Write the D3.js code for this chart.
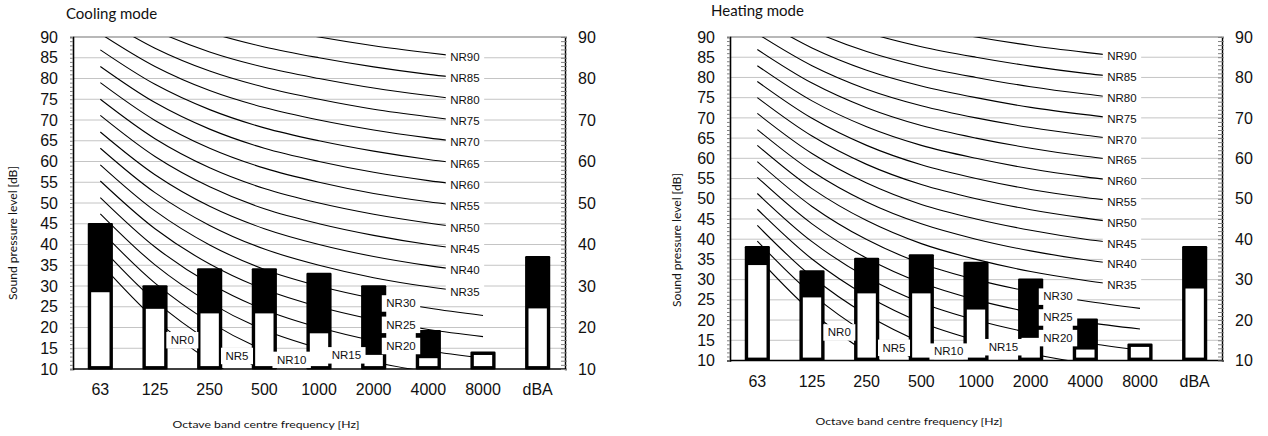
<!DOCTYPE html>
<html>
<head>
<meta charset="utf-8">
<script src="https://cdn.jsdelivr.net/npm/d3@7"></script>
<style>
  html, body { margin: 0; padding: 0; background: #fff; }
  svg { display: block; }
</style>
</head>
<body>
<svg id="chart" width="1268" height="436"></svg>
<script>
// ---------------- DATA ----------------
const categories = ["63", "125", "250", "500", "1000", "2000", "4000", "8000", "dBA"];
const nrFreqs = ["63", "125", "250", "500", "1000", "2000", "4000", "8000"];
const nrLevels = [0, 5, 10, 15, 20, 25, 30, 35, 40, 45, 50, 55, 60, 65, 70, 75, 80, 85, 90];
const nrCurves = [
  [35.5, 22.0, 12.0, 4.8, 0, -3.5, -6.1, -8.0],
  [39.5, 26.4, 16.7, 9.7, 5, 1.6, -1.0, -2.9],
  [43.4, 30.7, 21.3, 14.5, 10, 6.7, 4.2, 2.3],
  [47.4, 35.1, 26.0, 19.4, 15, 11.7, 9.3, 7.5],
  [51.3, 39.4, 30.6, 24.3, 20, 16.8, 14.4, 12.6],
  [55.3, 43.8, 35.3, 29.2, 25, 21.9, 19.5, 17.8],
  [59.2, 48.1, 39.9, 34.0, 30, 27.0, 24.7, 22.9],
  [63.2, 52.5, 44.6, 38.9, 35, 32.0, 29.8, 28.1],
  [67.1, 56.8, 49.2, 43.8, 40, 37.1, 34.9, 33.2],
  [71.1, 61.2, 53.9, 48.6, 45, 42.2, 40.0, 38.4],
  [75.0, 65.5, 58.5, 53.5, 50, 47.3, 45.2, 43.5],
  [79.0, 69.9, 63.2, 58.4, 55, 52.3, 50.3, 48.7],
  [82.9, 74.2, 67.8, 63.2, 60, 57.4, 55.4, 53.8],
  [86.9, 78.6, 72.5, 68.1, 65, 62.5, 60.5, 59.0],
  [90.8, 82.9, 77.1, 73.0, 70, 67.6, 65.7, 64.1],
  [94.8, 87.3, 81.8, 77.9, 75, 72.6, 70.8, 69.3],
  [98.7, 91.6, 86.4, 82.7, 80, 77.7, 75.9, 74.4],
  [102.7, 96.0, 91.1, 87.6, 85, 82.8, 81.0, 79.6],
  [106.6, 100.3, 95.7, 92.5, 90, 87.9, 86.2, 84.7]
];
// where along the frequency axis (in category steps) each NR label sits
const nrLabelAt = [1.5, 2.5, 3.5, 4.5, 5.5, 5.5, 5.5, 6.67, 6.67, 6.67, 6.67, 6.67, 6.67, 6.67, 6.67, 6.67, 6.67, 6.67, 6.67];

const coolingTotal = [45.2, 30.2, 34.3, 34.3, 33.2, 30.2, 19.4, 14.2, 37.2];
const coolingInner = [28.5, 24.5, 23.4, 23.4, 18.6, 13.4, 12.6, 13.4, 24.6];
const heatingTotal = [38.3, 32.3, 35.4, 36.3, 34.4, 30.3, 20.4, 14.2, 38.3];
const heatingInner = [33.6, 25.6, 26.6, 26.6, 22.6, 15.6, 12.7, 13.4, 27.8];

const yTicksLeft = [10, 15, 20, 25, 30, 35, 40, 45, 50, 55, 60, 65, 70, 75, 80, 85, 90];
const yTicksRight = [10, 20, 30, 40, 50, 60, 70, 80, 90];
const yDomain = [10, 90];

// ---------------- DRAW ----------------
const svg = d3.select("#chart");
const numFont = "'Liberation Sans', Arial, sans-serif";
const textFont = "Lato, 'Open Sans', sans-serif";

function drawPanel(p) {
  const g = svg.append("g");
  const x = d3.scaleBand().domain(categories).range([p.x0, p.x1]);
  const y = d3.scaleLinear().domain(yDomain).range([p.yBot, p.yTop]);
  const cx = c => x(c) + x.bandwidth() / 2;
  const barW = x.step() * 0.46;
  const border = 3.4;

  // grid lines
  g.append("g").selectAll("line").data(yTicksLeft.filter(v => v > 10)).join("line")
    .attr("x1", p.x0).attr("x2", p.x1)
    .attr("y1", d => y(d)).attr("y2", d => y(d))
    .attr("stroke", d => d === 90 ? "#a0a0a0" : "#c4c4c4")
    .attr("stroke-width", d => d === 90 ? 1.6 : 1);

  // NR curves
  const clipId = "clip-" + p.id;
  svg.append("defs").append("clipPath").attr("id", clipId).append("rect")
    .attr("x", p.x0).attr("y", p.yTop).attr("width", p.x1 - p.x0).attr("height", p.yBot - p.yTop);
  const line = d3.line()
    .x((d, i) => cx(nrFreqs[i]))
    .y(d => y(d))
    .curve(d3.curveCatmullRom.alpha(0.5));
  g.append("g").attr("clip-path", `url(#${clipId})`)
    .selectAll("path").data(nrCurves).join("path")
    .attr("d", line)
    .attr("fill", "none").attr("stroke", "#000").attr("stroke-width", 1.1);

  // bars
  const bars = g.append("g");
  bars.selectAll("rect.outer").data(p.total).join("rect")
    .attr("class", "outer")
    .attr("x", (d, i) => cx(categories[i]) - barW / 2)
    .attr("y", d => y(d))
    .attr("width", barW)
    .attr("height", d => y(yDomain[0]) - y(d) + 0.5)
    .attr("rx", 1.2)
    .attr("fill", "#000");
  bars.selectAll("rect.inner").data(p.inner).join("rect")
    .attr("class", "inner")
    .attr("x", (d, i) => cx(categories[i]) - barW / 2 + border)
    .attr("y", (d, i) => Math.max(y(d), y(p.total[i]) + border))
    .attr("width", barW - 2 * border)
    .attr("height", (d, i) => y(yDomain[0]) - border + 0.5 - Math.max(y(d), y(p.total[i]) + border))
    .attr("fill", "#fff");

  // NR labels
  const labels = g.append("g");
  nrLevels.forEach((lv, i) => {
    const t = nrLabelAt[i];
    const k = Math.floor(t), f = t - k;
    const v = nrCurves[i][k] * (1 - f) + nrCurves[i][k + 1] * f;
    const lx = cx(nrFreqs[k]) + f * x.step();
    const ly = y(v);
    const lg = labels.append("g");
    const rect = lg.append("rect").attr("fill", "#fff");
    const txt = lg.append("text")
      .attr("x", lx).attr("y", ly)
      .attr("text-anchor", "middle").attr("dominant-baseline", "central")
      .attr("font-family", numFont).attr("font-size", 11.5).attr("fill", "#111")
      .text("NR" + lv);
    const bb = txt.node().getBBox();
    rect.attr("x", bb.x - 4.5).attr("y", ly - 8).attr("width", bb.width + 9).attr("height", 16.5);
  });

  // bottom axis line
  g.append("line").attr("x1", p.x0).attr("x2", p.x1)
    .attr("y1", y(10)).attr("y2", y(10)).attr("stroke", "#000").attr("stroke-width", 1.6);

  // left axis: minor ticks + labels
  const leftMinor = d3.axisLeft(y).tickValues(d3.range(10, 91, 1)).tickSize(3).tickFormat("");
  const la = g.append("g").attr("transform", `translate(${p.x0},0)`).call(leftMinor);
  la.select(".domain").attr("stroke", "#000").attr("stroke-width", 1.6);
  la.selectAll(".tick line").attr("stroke", "#808080");
  const leftMajor = d3.axisLeft(y).tickValues(yTicksLeft).tickSize(0).tickPadding(15);
  const lm = g.append("g").attr("transform", `translate(${p.x0},0)`).call(leftMajor);
  lm.select(".domain").remove();
  lm.selectAll("text").attr("font-family", numFont).attr("font-size", 16).attr("fill", "#111");

  // right axis
  const rightMinor = d3.axisRight(y).tickValues(d3.range(10, 91, 1)).tickSize(2).tickFormat("");
  const ra = g.append("g").attr("transform", `translate(${p.x1},0)`).call(rightMinor);
  ra.select(".domain").attr("stroke", "#000").attr("stroke-width", 1.4);
  ra.selectAll(".tick line").attr("stroke", "#808080").attr("x1", -4);
  const rightMajor = d3.axisRight(y).tickValues(yTicksRight).tickSize(0).tickPadding(13);
  const rm = g.append("g").attr("transform", `translate(${p.x1},0)`).call(rightMajor);
  rm.select(".domain").remove();
  rm.selectAll("text").attr("font-family", numFont).attr("font-size", 16).attr("fill", "#111");

  // x axis labels
  const xa = d3.axisBottom(x).tickSize(0).tickPadding(15);
  const xg = g.append("g").attr("transform", `translate(0,${p.yBot})`).call(xa);
  xg.select(".domain").remove();
  xg.selectAll("text").attr("font-family", numFont).attr("font-size", 16).attr("fill", "#111");

  // titles
  g.append("text").attr("x", p.titleX).attr("y", p.titleY)
    .attr("font-family", textFont).attr("font-size", 15).attr("fill", "#111").text(p.title);
  g.append("text")
    .attr("transform", `translate(${p.yTitleX},${p.yTitleY}) rotate(-90)`)
    .attr("text-anchor", "middle")
    .attr("font-family", textFont).attr("font-size", 10.5).attr("fill", "#111")
    .attr("textLength", 134).attr("lengthAdjust", "spacingAndGlyphs")
    .text("Sound pressure level [dB]");
  g.append("text").attr("x", p.xTitleX).attr("y", p.xTitleY)
    .attr("text-anchor", "middle")
    .attr("font-family", textFont).attr("font-size", 10).attr("fill", "#111")
    .attr("textLength", 187).attr("lengthAdjust", "spacingAndGlyphs")
    .text("Octave band centre frequency [Hz]");
}

drawPanel({
  id: "cool", x0: 73, x1: 565, yTop: 37, yBot: 369,
  total: coolingTotal, inner: coolingInner,
  title: "Cooling mode", titleX: 66, titleY: 19,
  yTitleX: 17, yTitleY: 233, xTitleX: 266, xTitleY: 428
});
drawPanel({
  id: "heat", x0: 730, x1: 1222, yTop: 37, yBot: 360.5,
  total: heatingTotal, inner: heatingInner,
  title: "Heating mode", titleX: 711, titleY: 16,
  yTitleX: 681, yTitleY: 240, xTitleX: 909, xTitleY: 425
});
</script>
</body>
</html>
